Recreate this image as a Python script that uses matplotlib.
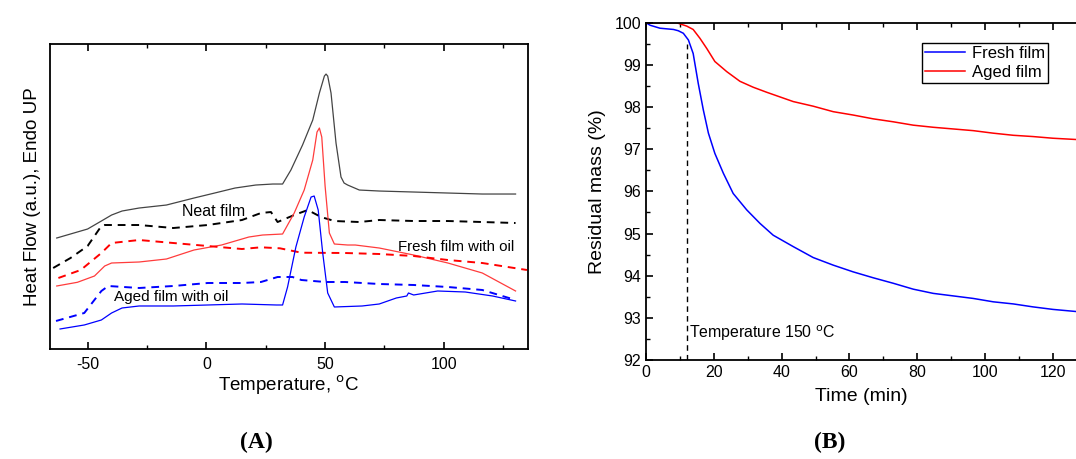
import numpy as np
import matplotlib
matplotlib.use("Agg")
import matplotlib.pyplot as plt

plt.rcParams['font.family'] = ['Liberation Sans', 'DejaVu Sans']
plt.rcParams['axes.unicode_minus'] = False

# ---- Panel A: DSC curves (heat flow in arbitrary units) ----
neat_T = [-63, -50, -44.2, -39.9, -35.5, -28.3, -16.8, -5.2, 3.5, 12.1, 20.8, 28, 32.1,
          35.6, 40.5, 44.8, 47.6, 49.7, 50.4, 51.1, 52.5, 54.6, 56.7, 58, 59.5, 64.4,
          72.8, 87.3, 101.7, 116.2, 130.2]
neat_H = [111, 120, 128, 134, 138, 141, 144, 151, 156, 161, 164, 165, 165,
          179, 204, 229, 256, 273, 275, 273, 256, 206, 172, 166, 164, 159,
          158, 157, 156, 155, 155]

neat2_T = [-64.5, -57.2, -50, -44.2, -42.8, -28.3, -13.9, 0.6, 15, 23, 27.2, 30.0, 37.0,
           42.7, 48.3, 53.9, 64.4, 72.8, 87.3, 101.7, 116.2, 130.2]
neat2_H = [81, 91, 103, 123, 124, 124, 121, 124, 129, 136, 137, 127, 134,
           139, 132, 128, 127, 129, 128, 128, 127, 126]

fresh_T = [-63, -54.3, -47.1, -42.8, -39.9, -28.3, -16.8, -5.2, 6.4, 17.9, 23.7, 32.1, 37.0,
           41.2, 44.8, 46.6, 47.6, 48.6, 50.0, 51.8, 53.9, 59.5, 62.7, 72.8, 87.3, 101.7,
           116.2, 130.2]
fresh_H = [63, 66.7, 73, 83, 86, 87, 90, 99, 104, 112, 114, 115, 136,
           159, 189, 217, 221, 212, 163, 116, 105, 104, 104, 101, 94, 86,
           76, 58]

fresh2_T = [-62.3, -52.9, -44.2, -39.9, -28.3, -13.9, 0.6, 15, 23, 31, 40, 58.4, 72.8, 87.3,
            101.7, 116.2, 135]
fresh2_H = [71, 79, 96, 106, 109, 106, 103, 100, 101.7, 100.7, 96.3, 96, 95, 93,
            89, 86, 79]

aged_T = [-61.6, -51.4, -44.2, -39.9, -35.5, -28.3, -13.9, 0.6, 15, 29.5, 32.1, 34.2, 37.7,
          41.2, 44.1, 45.4, 47.1, 49.0, 51.1, 53.9, 65.6, 72.8, 80, 84.4, 85.1, 87.3, 97.4,
          109, 120.5, 130.2]
aged_H = [20, 24, 29, 36, 41, 43, 43, 44, 45, 44, 44, 62, 102,
          132, 152, 153, 139, 96, 56, 42, 43, 45, 51, 53, 56, 54, 58,
          57, 53, 48]

aged2_T = [-63.3, -51.4, -44.2, -41.3, -28.3, -13.9, 0.6, 15, 23, 30, 36.3, 40, 50, 58.4,
           72.8, 87.3, 101.7, 116.2, 130.2]
aged2_H = [28, 36, 58, 63, 61, 63, 66, 66, 67, 72, 72, 69, 67, 67,
           65, 64, 62, 59, 49]

# ---- Panel B: TGA isotherm ----
t_fresh = [0, 1.2, 4.1, 8.1, 9.5, 11, 12.5, 13.9, 15.4, 16.9, 18.4, 20.3, 22.8, 25.7, 29.7,
           33.6, 37.5, 43.4, 49.3, 55.2, 61.1, 67, 72.9, 78.8, 84.7, 90.6, 96.5, 102.4,
           108.3, 114.1, 120, 126.8]
m_fresh = [100, 99.94, 99.87, 99.84, 99.81, 99.75, 99.59, 99.27, 98.56, 97.93, 97.38, 96.90,
           96.43, 95.95, 95.56, 95.24, 94.96, 94.69, 94.43, 94.25, 94.09, 93.95, 93.82, 93.68,
           93.58, 93.52, 93.46, 93.38, 93.33, 93.26, 93.20, 93.15]
t_aged = [0, 9, 12, 13.9, 15.9, 17.9, 20.3, 23.8, 27.7, 31.6, 35.6, 39.5, 43.4, 49.3, 55.2,
          61.1, 67, 72.9, 78.8, 84.7, 90.6, 96.5, 102.4, 108.3, 114.1, 120, 126.8]
m_aged = [100, 100, 99.92, 99.84, 99.63, 99.39, 99.08, 98.84, 98.61, 98.47, 98.35, 98.24,
          98.13, 98.02, 97.89, 97.81, 97.72, 97.65, 97.57, 97.52, 97.48, 97.44, 97.38, 97.33,
          97.30, 97.26, 97.23]
iso_t = [12, 12]
iso_m = [92, 99.5]

fig = plt.figure(figsize=(10.76, 4.59), dpi=100)

# Panel A
axA = fig.add_axes([0.0461, 0.2397, 0.4443, 0.6643])
axA.plot(neat_T, neat_H, color='#444444', lw=0.9)
axA.plot(neat2_T, neat2_H, color='black', lw=1.4, ls=(0, (4, 3)))
axA.plot(fresh_T, fresh_H, color='#ff3c3c', lw=0.9)
axA.plot(fresh2_T, fresh2_H, color='#ff0000', lw=1.4, ls=(0, (4, 3)))
axA.plot(aged_T, aged_H, color='#0000ff', lw=0.9)
axA.plot(aged2_T, aged2_H, color='#0000ff', lw=1.4, ls=(0, (4, 3)))
axA.set_xlim(-66, 135.3)
axA.set_ylim(0, 305)
axA.set_yticks([])
axA.set_xticks([-50, 0, 50, 100])
axA.set_xticks([-25, 25, 75, 125], minor=True)
axA.tick_params(axis='x', which='both', direction='in', top=True, labelsize=11.5, pad=6)
axA.tick_params(axis='x', which='major', length=5, width=1.2)
axA.tick_params(axis='x', which='minor', length=3, width=1.0)
for s in axA.spines.values():
    s.set_linewidth(1.3)
axA.set_xlabel('Temperature, $^{\\mathrm{o}}$C', fontsize=13.5, labelpad=1)
axA.set_ylabel('Heat Flow (a.u.), Endo UP', fontsize=13.5, labelpad=6)
axA.text(3, 138, 'Neat film', fontsize=11.5, ha='center', va='center')
axA.text(129.5, 102, 'Fresh film with oil', fontsize=10.8, ha='right', va='center')
axA.text(-15, 52, 'Aged film with oil', fontsize=11, ha='center', va='center')

# Panel B
axB = fig.add_axes([0.6004, 0.2157, 0.3996, 0.7348])
axB.plot(t_fresh, m_fresh, color='#0000ff', lw=1.1, label='Fresh film')
axB.plot(t_aged, m_aged, color='#ff0000', lw=1.1, label='Aged film')
axB.plot(iso_t, iso_m, color='black', lw=1.0, ls=(0, (4, 3)))
axB.set_xlim(0, 126.8)
axB.set_ylim(92, 100)
axB.set_xticks([0, 20, 40, 60, 80, 100, 120])
axB.set_xticks(np.arange(10, 127, 20), minor=True)
axB.set_yticks(range(92, 101))
axB.set_yticks(np.arange(92.5, 100, 1), minor=True)
axB.tick_params(which='both', direction='in', top=True, labelsize=11.5)
axB.tick_params(which='major', length=5, width=1.2)
axB.tick_params(which='minor', length=3, width=1.0)
axB.spines['right'].set_visible(False)
for s in ['left', 'bottom', 'top']:
    axB.spines[s].set_linewidth(1.3)
axB.set_xlabel('Time (min)', fontsize=14, labelpad=6)
axB.set_ylabel('Residual mass (%)', fontsize=14, labelpad=6)
axB.text(12.8, 92.64, 'Temperature 150 $^{\\mathrm{o}}$C', fontsize=11.4, ha='left', va='center')
leg = axB.legend(loc='upper right', bbox_to_anchor=(0.935, 0.94), fontsize=12,
                 frameon=True, fancybox=False, framealpha=1, edgecolor='black',
                 handlelength=2.4, handletextpad=0.4, borderpad=0.2, labelspacing=0.2,
                 borderaxespad=0)
leg.get_frame().set_linewidth(1.0)

fig.text(0.238, 0.037, '(A)', fontsize=17, fontweight='bold', family='Liberation Serif',
         ha='center', va='center')
fig.text(0.771, 0.035, '(B)', fontsize=17, fontweight='bold', family='Liberation Serif',
         ha='center', va='center')

fig.savefig('out.png', dpi=100)
